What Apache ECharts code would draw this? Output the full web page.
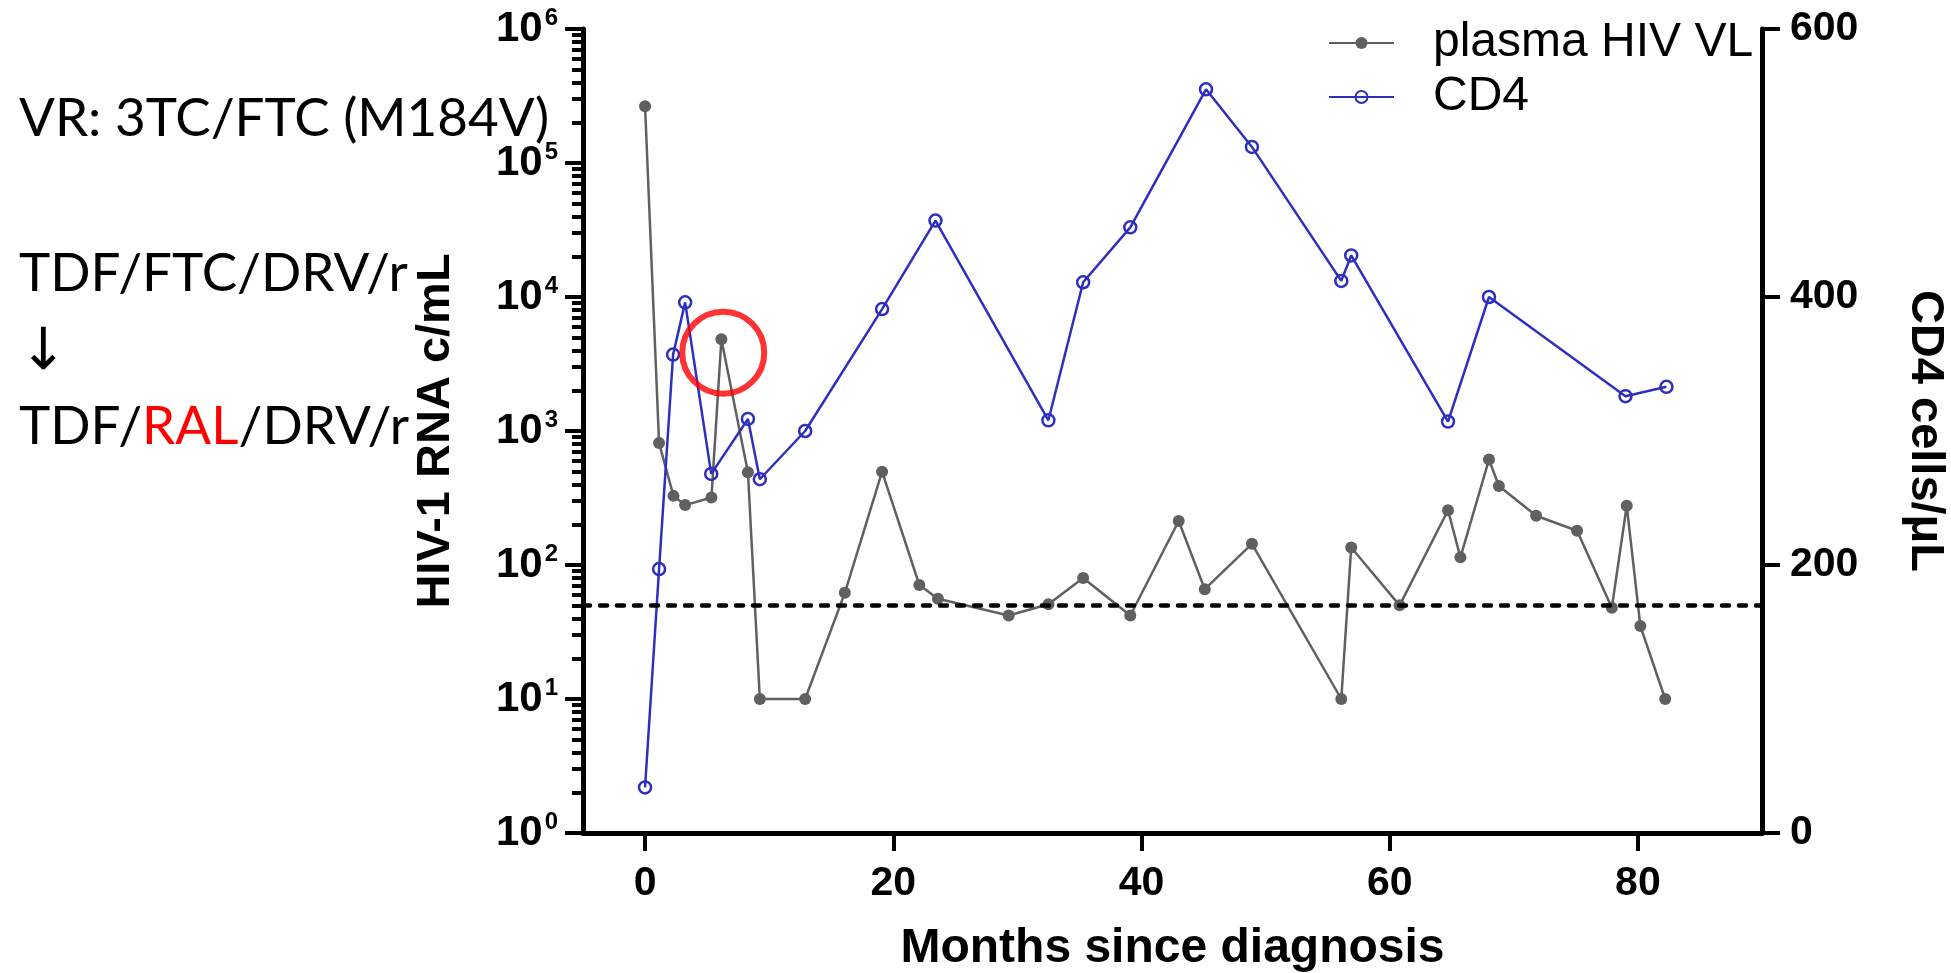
<!DOCTYPE html>
<html>
<head>
<meta charset="utf-8">
<script src="https://cdn.jsdelivr.net/npm/echarts@6/dist/echarts.min.js"></script>
<style>
  html, body { margin: 0; padding: 0; background: #fff; }
  #chart { width: 1951px; height: 973px; }
</style>
</head>
<body>
<div id="chart"></div>
<script>
// plasma viral load (copies/mL) by month since diagnosis
const vlMonths = [0, 1.13, 2.29, 3.23, 5.35, 6.15, 8.29, 9.25, 12.9, 16.1,
  19.1, 22.1, 23.6, 29.3, 32.5, 35.3, 39.1, 43.0, 45.1, 48.9,
  56.1, 56.9, 60.8, 64.7, 65.7, 68.0, 68.8, 71.8, 75.1, 77.9,
  79.1, 80.2, 82.2]
const vlValues = [265000, 813, 328, 280, 319, 4830, 492, 10, 10, 62,
  497, 71, 56, 42, 51, 80, 42, 213, 66, 144,
  10, 135, 50, 256, 114, 612, 389, 233, 180, 48,
  277, 35, 10]

// CD4 count (cells/uL)
const cd4Months = [0, 1.13, 2.26, 3.23, 5.33, 8.29, 9.25, 12.9, 19.1, 23.4,
  32.5, 35.3, 39.1, 45.2, 48.9, 56.1, 56.9, 64.7, 68.0, 79.0, 82.3]
const cd4Values = [34, 197, 357, 396, 268, 309, 264, 300, 391, 457,
  308, 411, 452, 555, 512, 412, 431, 307, 400, 326, 333]

const detectionLimit = 50
const circledPoint = [6.3, 3840]

const xTicks = [0, 20, 40, 60, 80]
const logTicks = [1, 10, 100, 1000, 10000, 100000, 1000000]
const cd4Ticks = [0, 200, 400, 600]
const logMinorTicks = []
for (let e = 0; e < 6; e++) {
  for (let m = 2; m <= 9; m++) logMinorTicks.push(m * Math.pow(10, e))
}

const GRAY = '#606060'
const BLUE = '#2e2ebf'
const SANS = '"Liberation Sans", Arial, sans-serif'
const LEFT_FONT = 'Lato, "Noto Sans", sans-serif'

const axisLineStyle = { color: '#000', width: 5 }
const tickStyle = { color: '#000', width: 4 }
const tickLabel = { fontSize: 41, fontWeight: 'bold', fontFamily: SANS, color: '#000' }
const nameStyle = { fontSize: 47, fontWeight: 'bold', fontFamily: SANS, color: '#000' }

const chart = echarts.init(document.getElementById('chart'), null, { renderer: 'canvas' })

chart.setOption({
  backgroundColor: '#ffffff',
  animation: false,
  grid: { left: 583, right: 189, top: 29, bottom: 140, containLabel: false, outerBoundsMode: 'none' },
  legend: {
    orient: 'vertical',
    left: 1328,
    top: 19,
    padding: 0,
    itemWidth: 65,
    itemHeight: 15,
    itemGap: 6,
    selectedMode: false,
    data: ['plasma HIV VL', 'CD4'],
    textStyle: { fontSize: 48, fontFamily: SANS, color: '#000', padding: [0, 0, 0, 34] },
  },
  xAxis: {
    type: 'value',
    min: -5,
    max: 90,
    axisLine: { onZero: false, lineStyle: axisLineStyle },
    axisTick: { customValues: xTicks, length: 18, lineStyle: tickStyle },
    axisLabel: Object.assign({ customValues: xTicks, margin: 30 }, tickLabel),
    splitLine: { show: false },
    name: 'Months since diagnosis',
    nameLocation: 'middle',
    nameGap: 92,
    nameMoveOverlap: false,
    nameTextStyle: Object.assign({}, nameStyle, { fontSize: 48 }),
  },
  yAxis: [
    {
      type: 'log',
      logBase: 10,
      min: 1,
      max: 1000000,
      position: 'left',
      axisLine: { show: true, onZero: false, lineStyle: axisLineStyle },
      axisTick: { show: true, customValues: logTicks, length: 18, lineStyle: tickStyle },
      axisLabel: {
        customValues: logTicks,
        margin: 25,
        formatter: v => '{b|10}{s|' + Math.round(Math.log10(v)) + '}',
        rich: {
          b: { fontSize: 42, fontWeight: 'bold', fontFamily: SANS, color: '#000', lineHeight: 46 },
          s: { fontSize: 24, fontWeight: 'bold', fontFamily: SANS, color: '#000', verticalAlign: 'top', lineHeight: 24, padding: [0, 0, 0, 2] },
        },
      },
      splitLine: { show: false },
      name: 'HIV-1 RNA c/mL',
      nameLocation: 'middle',
      nameGap: 123,
      nameMoveOverlap: false,
      nameTextStyle: nameStyle,
    },
    {
      type: 'value',
      min: 0,
      max: 600,
      interval: 200,
      position: 'right',
      axisLine: { show: true, onZero: false, lineStyle: axisLineStyle },
      axisTick: { show: true, customValues: cd4Ticks, length: 18, lineStyle: tickStyle },
      axisLabel: Object.assign({ customValues: cd4Ticks, margin: 28 }, tickLabel),
      splitLine: { show: false },
      name: 'CD4 cells/μL',
      nameLocation: 'middle',
      nameRotate: -90,
      nameGap: 139,
      nameMoveOverlap: false,
      nameTextStyle: nameStyle,
    },
    {
      // minor log ticks only
      type: 'log',
      logBase: 10,
      min: 1,
      max: 1000000,
      position: 'left',
      axisLine: { show: false, onZero: false },
      axisTick: { show: true, customValues: logMinorTicks, length: 11, lineStyle: tickStyle },
      axisLabel: { show: false },
      splitLine: { show: false },
    },
  ],
  series: [
    {
      name: 'plasma HIV VL',
      type: 'line',
      yAxisIndex: 0,
      data: vlMonths.map((m, i) => [m, vlValues[i]]),
      symbol: 'circle',
      symbolSize: 12,
      itemStyle: { color: GRAY },
      lineStyle: { color: GRAY, width: 2.5 },
      z: 2,
      markLine: {
        silent: true,
        symbol: 'none',
        label: { show: false },
        lineStyle: { color: '#000', width: 4.5, type: [7, 10], cap: 'round' },
        data: [{ yAxis: detectionLimit }],
      },
    },
    {
      name: 'CD4',
      type: 'line',
      yAxisIndex: 1,
      data: cd4Months.map((m, i) => [m, cd4Values[i]]),
      symbol: 'circle',
      symbolSize: 12,
      itemStyle: { color: 'rgba(0,0,0,0)', borderColor: BLUE, borderWidth: 2.5 },
      lineStyle: { color: BLUE, width: 2.5 },
      z: 3,
    },
    {
      name: 'highlight',
      type: 'scatter',
      yAxisIndex: 0,
      data: [circledPoint],
      symbol: 'circle',
      symbolSize: 82,
      itemStyle: { color: 'rgba(0,0,0,0)', borderColor: '#ff0000', borderWidth: 6 },
      z: 4,
      silent: true,
    },
  ],
  graphic: [
    { type: 'text', x: 19, y: 119, style: { text: 'VR: 3TC/FTC (M184V)', font: '53px ' + LEFT_FONT, fill: '#000', verticalAlign: 'middle', align: 'left' } },
    { type: 'text', x: 19, y: 274, style: { text: 'TDF/FTC/DRV/r', font: '53px ' + LEFT_FONT, fill: '#000', verticalAlign: 'middle', align: 'left' } },
    { type: 'text', x: 19, y: 352, style: { text: '↓', font: '58px "Noto Sans", "DejaVu Sans", sans-serif', fill: '#000', verticalAlign: 'middle', align: 'left' } },
    {
      type: 'text', x: 19, y: 427,
      style: {
        text: '{k|TDF/}{r|RAL}{k|/DRV/r}',
        font: '53px ' + LEFT_FONT,
        verticalAlign: 'middle',
        align: 'left',
        rich: {
          k: { fill: '#000', fontSize: 53, fontFamily: LEFT_FONT },
          r: { fill: '#ff0000', fontSize: 53, fontFamily: LEFT_FONT },
        },
      },
    },
  ],
})
</script>
</body>
</html>
